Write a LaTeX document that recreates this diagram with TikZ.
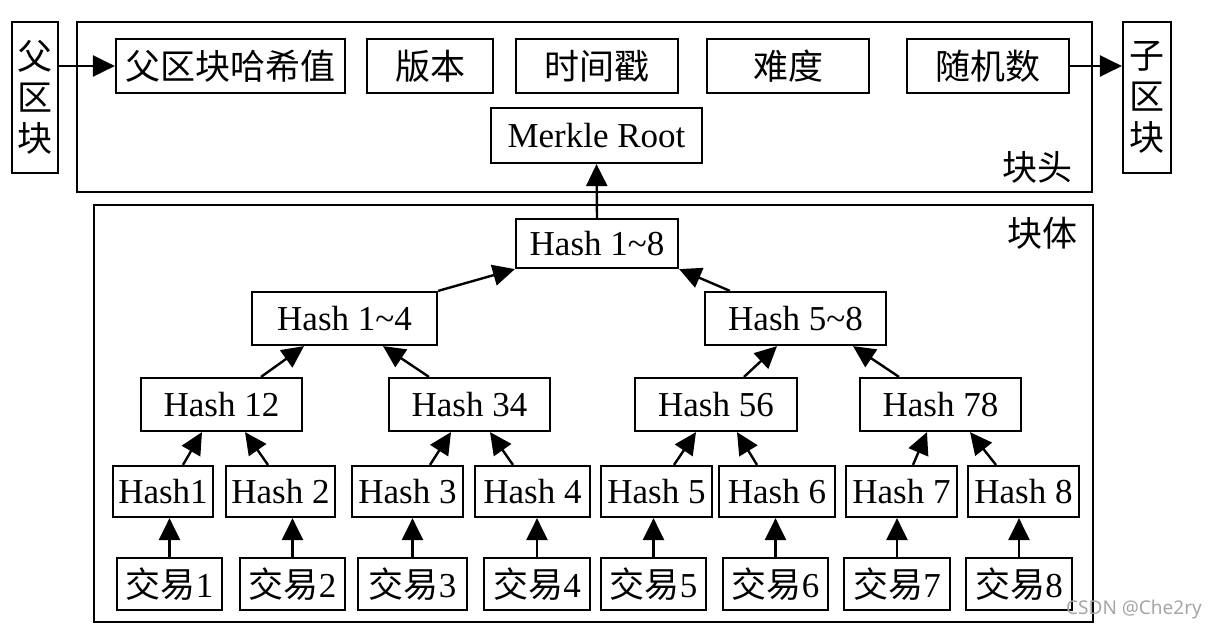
\documentclass[tikz,border=0pt]{standalone}
\usepackage{fontspec}
\setmainfont{Liberation Serif}
\newfontfamily\cjk{Noto Sans CJK SC}
\newfontfamily\wmfont{Noto Sans}
\usetikzlibrary{arrows.meta,calc}
\begin{document}
\begin{tikzpicture}[x=1pt,y=-1pt,
  box/.style={draw, line width=2.2pt, inner sep=0pt, font=\fontsize{35}{41}\selectfont, align=center},
  frame/.style={draw, line width=2.6pt, inner sep=0pt},
  arr/.style={line width=2.4pt, -{Triangle[length=22pt,width=21pt]}},
  lbl/.style={inner sep=0pt, font=\fontsize{35}{41}\selectfont}
]
\useasboundingbox (0,0) rectangle (1215,633);
% frames
\node[frame, minimum width=1015, minimum height=170] (head) at (584.5,107) {};
\node[frame, minimum width=999, minimum height=417] (body) at (593.5,413.5) {};
\node[lbl] (lhead) at (1037,167) {\cjk 块头};
\node[lbl] (lbody) at (1042,233) {\cjk 块体};
% header
\node[box, minimum width=46, minimum height=151] (pblk) at (35,97.5) {\cjk 父\\\cjk 区\\\cjk 块};
\node[box, minimum width=48, minimum height=151] (cblk) at (1147,97.5) {\cjk 子\\\cjk 区\\\cjk 块};
\node[box, minimum width=229, minimum height=54] (phash) at (230.5,66) {\cjk 父区块哈希值};
\node[box, minimum width=126, minimum height=54] (ver) at (430,66) {\cjk 版本};
\node[box, minimum width=162, minimum height=54] (ts) at (597,66) {\cjk 时间戳};
\node[box, minimum width=162, minimum height=54] (diff) at (788,66) {\cjk 难度};
\node[box, minimum width=162, minimum height=54] (nonce) at (988,66) {\cjk 随机数};
\node[box, minimum width=211, minimum height=55] (merkle) at (596.5,135.5) {Merkle Root};
% tree
\node[box, minimum width=162, minimum height=49] (h18) at (597,243.5) {Hash 1\textasciitilde 8};
\node[box, minimum width=185, minimum height=53] (h14) at (344.5,318.5) {Hash 1\textasciitilde 4};
\node[box, minimum width=181, minimum height=53] (h58) at (795.5,318.5) {Hash 5\textasciitilde 8};
\node[box, minimum width=161, minimum height=53] (h12) at (221.5,404.5) {Hash 12};
\node[box, minimum width=161, minimum height=53] (h34) at (469.5,404.5) {Hash 34};
\node[box, minimum width=162, minimum height=53] (h56) at (716,404.5) {Hash 56};
\node[box, minimum width=161, minimum height=53] (h78) at (940.5,404.5) {Hash 78};
\node[box, minimum width=100, minimum height=51] (h1) at (163,491.5) {Hash1};
\node[box, minimum width=109, minimum height=51] (h2) at (280.5,491.5) {Hash 2};
\node[box, minimum width=111, minimum height=51] (h3) at (407.5,491.5) {Hash 3};
\node[box, minimum width=115, minimum height=51] (h4) at (532.5,491.5) {Hash 4};
\node[box, minimum width=111, minimum height=51] (h5) at (656.5,491.5) {Hash 5};
\node[box, minimum width=116, minimum height=51] (h6) at (777,491.5) {Hash 6};
\node[box, minimum width=111, minimum height=51] (h7) at (901.5,491.5) {Hash 7};
\node[box, minimum width=111, minimum height=51] (h8) at (1023.5,491.5) {Hash 8};
\node[box, minimum width=105, minimum height=52] (t1) at (169.5,584) {{\cjk 交易}1};
\node[box, minimum width=105, minimum height=52] (t2) at (292.5,584) {{\cjk 交易}2};
\node[box, minimum width=109, minimum height=52] (t3) at (412.5,584) {{\cjk 交易}3};
\node[box, minimum width=106, minimum height=52] (t4) at (537,584) {{\cjk 交易}4};
\node[box, minimum width=105, minimum height=52] (t5) at (653.5,584) {{\cjk 交易}5};
\node[box, minimum width=105, minimum height=52] (t6) at (775.5,584) {{\cjk 交易}6};
\node[box, minimum width=106, minimum height=52] (t7) at (897,584) {{\cjk 交易}7};
\node[box, minimum width=106, minimum height=52] (t8) at (1019,584) {{\cjk 交易}8};
% watermark
\node[inner sep=0pt, text=black!35, font=\wmfont\fontsize{19}{22}\selectfont] (wm) at (1134,610) {CSDN @Che2ry};
% connectors
\draw[arr] (pblk.east |- phash.west) -- (phash.west);
\draw[arr] (nonce.east) -- (nonce.east -| cblk.west);
\draw[arr] (h18.north) -- (merkle.south);
\draw[arr] (h14.north east) -- (h18.south west);
\draw[arr] ([xshift=26]h58.north west) -- (h18.south east);
\draw[arr] ([xshift=39.5]h12.north) -- ([xshift=-40.5]h14.south);
\draw[arr] ([xshift=-40.5]h34.north) -- ([xshift=38.5]h14.south);
\draw[arr] ([xshift=28]h56.north) -- ([xshift=-18.5]h58.south);
\draw[arr] ([xshift=-41.5]h78.north) -- ([xshift=57.5]h58.south);
\draw[arr] ([xshift=20]h1.north) -- ([xshift=-19.5]h12.south);
\draw[arr] ([xshift=-12.5]h2.north) -- ([xshift=23.5]h12.south);
\draw[arr] ([xshift=22.5]h3.north) -- ([xshift=-18.5]h34.south);
\draw[arr] ([xshift=-19.5]h4.north) -- ([xshift=20.5]h34.south);
\draw[arr] ([xshift=17.5]h5.north) -- ([xshift=-20]h56.south);
\draw[arr] ([xshift=-20]h6.north) -- ([xshift=21]h56.south);
\draw[arr] ([xshift=11.5]h7.north) -- ([xshift=-13.5]h78.south);
\draw[arr] ([xshift=-27.5]h8.north) -- ([xshift=29.5]h78.south);
\foreach \i in {1,...,8}{
  \draw[arr] (t\i.north) -- (t\i.north |- h\i.south);
}
\end{tikzpicture}
\end{document}
